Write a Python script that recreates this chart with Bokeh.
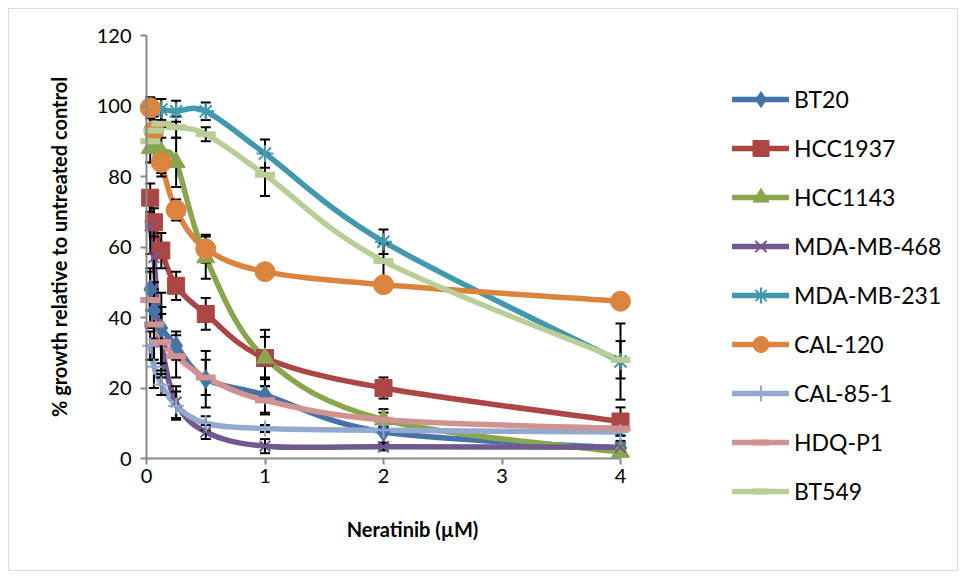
import numpy as np
from bokeh.plotting import figure
from bokeh.models import Legend, LegendItem, Label, BoxAnnotation, FixedTicker
from bokeh.embed import file_html
from bokeh.resources import INLINE

# ---- data ----
doses = [0.03125, 0.0625, 0.125, 0.25, 0.5, 1, 2, 4]
x_ticks = [0, 1, 2, 3, 4]
y_ticks = [0, 20, 40, 60, 80, 100, 120]

cell_lines = ["BT20", "HCC1937", "HCC1143", "MDA-MB-468", "MDA-MB-231",
              "CAL-120", "CAL-85-1", "HDQ-P1", "BT549"]

bt20 = [48, 42, 37, 32, 22.5, 18, 7.5, 3]
bt20_err = [6, 8, 10, 4, 8, 5, 3, 2]
hcc1937 = [74, 67, 59, 49, 41, 28.5, 20, 10.5]
hcc1937_err = [4, 4, 5, 4, 4.5, 6, 3, 4]
hcc1143 = [88, 89, 87, 84, 57, 28.5, 11, 1.8]
hcc1143_err = [4, 5, 7, 7, 6, 8, 3, 1]
mda468 = [66, 57, 33, 16, 7.5, 3.5, 3.3, 3.2]
mda468_err = [8, 12, 10, 4.5, 2, 2, 1, 1]
mda231 = [99.5, 99, 99, 98.5, 98.5, 86.5, 61.5, 27.5]
mda231_err = [3, 3, 3, 3, 2.5, 4, 3.5, 10.8]
cal120 = [99.5, 93, 84, 70.5, 59.5, 53, 49.3, 44.6]
cal120_err = [2, 3, 3, 3, 4, 1, 1, 1.5]
cal851 = [32, 26, 21, 15, 10, 8.5, 8, 7.5]
cal851_err = [4, 6, 3, 4, 2, 1, 1, 1]
hdqp1 = [45, 38, 33, 29, 23, 16.5, 11, 8.5]
hdqp1_err = [8, 10, 8, 6, 5, 4, 2, 1]
bt549 = [90, 93, 95, 94, 92, 80.5, 56, 28]
bt549_err = [3, 4, 4, 3, 2, 6, 5, 5.3]

values = [bt20, hcc1937, hcc1143, mda468, mda231, cal120, cal851, hdqp1, bt549]
errors = [bt20_err, hcc1937_err, hcc1143_err, mda468_err, mda231_err,
          cal120_err, cal851_err, hdqp1_err, bt549_err]

# ---- styling ----
colors = ["#4572A7", "#AA4643", "#89A54E", "#71588F", "#4198AF",
          "#DB843D", "#93A9CF", "#D19392", "#B9CD96"]
markers = ["diamond", "square", "triangle", "x", "asterisk",
           "circle", "cross", "dash", "dash"]
msizes = [19, 17, 18, 15, 17, 20, 16, 20, 20]
FONT = "Lato"
LW = 5.5

W, H = 960, 578
X0_PX, X_PER = 146.0, 118.5     # pixel of x=0, pixels per unit
Y0_PX, Y_PER = 458.0, 3.525     # pixel of y=0, pixels per unit

p = figure(width=W, height=H, output_backend="svg", toolbar_location=None,
           x_range=(-X0_PX / X_PER, (W - X0_PX) / X_PER),
           y_range=((Y0_PX - H) / Y_PER, Y0_PX / Y_PER),
           min_border=0)
p.outline_line_color = None
p.background_fill_color = "white"
p.border_fill_color = "white"
p.grid.visible = False

for ax in (p.xaxis[0], p.yaxis[0]):
    ax.fixed_location = 0
    ax.axis_line_color = "#898989"
    ax.axis_line_width = 2
    ax.major_tick_line_color = "#898989"
    ax.major_tick_line_width = 2
    ax.major_tick_in = 0
    ax.major_tick_out = 6
    ax.minor_tick_line_color = None
    ax.major_label_text_font = FONT
    ax.major_label_text_font_size = "20px"
    ax.major_label_text_color = "black"
p.xaxis[0].ticker = FixedTicker(ticks=x_ticks)
p.yaxis[0].ticker = FixedTicker(ticks=y_ticks)
p.xaxis[0].bounds = (0, 4)
p.yaxis[0].bounds = (0, 120)
p.xaxis[0].major_label_standoff = 4
p.yaxis[0].major_label_standoff = 9


def smooth_segments(xs, ys):
    P = np.column_stack([xs, ys]).astype(float)
    n = len(P)
    out = {k: [] for k in ("x0", "y0", "x1", "y1", "cx0", "cy0", "cx1", "cy1")}
    for i in range(n - 1):
        pp = P[i - 1] if i > 0 else P[i]
        pn = P[i + 2] if i + 2 < n else P[i + 1]
        c0 = P[i] + (P[i + 1] - pp) / 6.0
        c1 = P[i + 1] - (pn - P[i]) / 6.0
        out["x0"].append(P[i, 0]); out["y0"].append(P[i, 1])
        out["x1"].append(P[i + 1, 0]); out["y1"].append(P[i + 1, 1])
        out["cx0"].append(c0[0]); out["cy0"].append(c0[1])
        out["cx1"].append(c1[0]); out["cy1"].append(c1[1])
    return out


curves = []
for vals, col in zip(values, colors):
    seg = smooth_segments(doses, vals)
    curves.append(p.bezier(line_color=col, line_width=LW, line_cap="round", **seg))

# error bars
for vals, errs in zip(values, errors):
    up = [v + e for v, e in zip(vals, errs)]
    lo = [v - e for v, e in zip(vals, errs)]
    p.segment(x0=doses, y0=lo, x1=doses, y1=up, line_color="black", line_width=2)
    p.scatter(x=doses + doses, y=up + lo, marker="dash", size=10,
              line_color="black", line_width=2)

# markers
scatters = []
for vals, col, mk, ms in zip(values, colors, markers, msizes):
    if mk in ("x", "asterisk", "cross"):
        r = p.scatter(x=doses, y=vals, marker=mk, size=ms,
                      line_color=col, line_width=2)
    elif mk == "dash":
        r = p.scatter(x=doses, y=vals, marker=mk, size=ms,
                      line_color=col, line_width=6)
    else:
        r = p.scatter(x=doses, y=vals, marker=mk, size=ms,
                      fill_color=col, line_color=col, line_width=1)
    scatters.append(r)

items = [LegendItem(label=name, renderers=[cv, sc])
         for name, cv, sc in zip(cell_lines, curves, scatters)]
legend = Legend(items=items, location=(732, 67),
                glyph_width=57, glyph_height=40, label_height=40,
                spacing=9, padding=10, label_standoff=5,
                label_text_font=FONT, label_text_font_size="23px",
                label_text_color="black",
                border_line_color=None, background_fill_alpha=0)
p.add_layout(legend)

p.add_layout(Label(x=2.245, y=-20, text="Neratinib (µM)", text_align="center",
                   text_baseline="middle", text_font=FONT,
                   text_font_size="20px", text_font_style="bold", text_color="black"))
p.add_layout(Label(x=-0.74, y=60, text="% growth relative to untreated control",
                   angle=np.pi / 2, text_align="center", text_baseline="middle",
                   text_font=FONT, text_font_size="20px",
                   text_font_style="bold", text_color="black"))

p.add_layout(BoxAnnotation(left=8, right=957, top=8, bottom=570,
                           left_units="canvas", right_units="canvas",
                           top_units="canvas", bottom_units="canvas",
                           fill_alpha=0, line_color="#868686", line_width=1,
                           level="overlay"))

open("out.html", "w").write(file_html(p, INLINE))
